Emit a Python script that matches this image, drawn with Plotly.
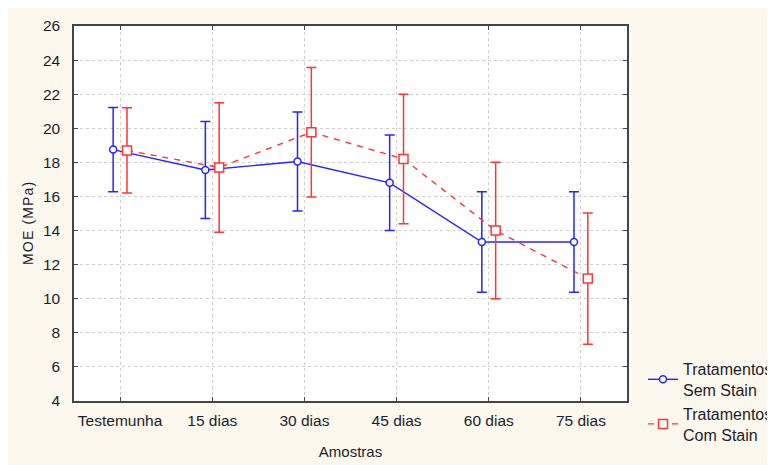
import plotly.graph_objects as go

categories = ["Testemunha", "15 dias", "30 dias", "45 dias", "60 dias", "75 dias"]
sem_stain = [18.75, 17.55, 18.05, 16.8, 13.33, 13.33]
sem_err = [2.47, 2.85, 2.9, 2.8, 2.95, 2.95]
com_stain = [18.7, 17.7, 19.77, 18.2, 14.0, 11.18]
com_err = [2.5, 3.8, 3.8, 3.8, 4.0, 3.85]
y_ticks = list(range(4, 27, 2))

offset = 0.075
x_sem = [i - offset for i in range(len(categories))]
x_com = [i + offset for i in range(len(categories))]

BLUE = "#2424ff"
RED = "#ff3434"
FONT = "Arial, Liberation Sans, sans-serif"
TXT = "#1c1c2c"

fig = go.Figure()
fig.add_trace(go.Scatter(
    x=x_sem, y=sem_stain, mode="lines+markers",
    name="Tratamentos<br>Sem Stain",
    line=dict(color=BLUE, width=1.4),
    marker=dict(symbol="circle", size=7, color="white", line=dict(color=BLUE, width=1.5)),
    error_y=dict(type="data", array=sem_err, visible=True, color=BLUE, thickness=1.5, width=5),
))
fig.add_trace(go.Scatter(
    x=x_com, y=com_stain, mode="lines+markers",
    name="Tratamentos<br>Com Stain",
    line=dict(color=RED, width=1.4, dash="6px,6px"),
    marker=dict(symbol="square", size=9, color="white", line=dict(color=RED, width=1.5)),
    error_y=dict(type="data", array=com_err, visible=True, color=RED, thickness=1.5, width=5),
))

W, H = 767, 457
L, T = 66, 18
R = W - 619
B = H - 393
pw = W - L - R
ph = H - T - B

axis_common = dict(
    showline=True, linecolor="#444444", linewidth=1.5, mirror="ticks",
    ticks="inside", ticklen=4, tickcolor="#444444", tickwidth=1.2,
    showgrid=True, gridcolor="#cfcfcf", griddash="dot", gridwidth=1,
    zeroline=False,
    tickfont=dict(family=FONT, size=15.5, color=TXT),
)

HS = "\u200a"
ytitle = HS.join("MOE (MPa)")

fig.update_layout(
    width=W, height=H,
    margin=dict(l=L, r=R, t=T, b=B, autoexpand=False),
    paper_bgcolor="#fdf8ee",
    plot_bgcolor="white",
    font=dict(family=FONT, size=15, color=TXT),
    xaxis=dict(
        **axis_common,
        tickmode="array", tickvals=list(range(len(categories))), ticktext=categories,
        range=[-0.5, len(categories) - 0.5],
        ticklabelstandoff=5,
        title=dict(text="Amostras", font=dict(family=FONT, size=15, color=TXT), standoff=18),
    ),
    yaxis=dict(
        **axis_common,
        tickmode="array", tickvals=y_ticks,
        range=[4, 26],
        ticklabelstandoff=9,
    ),
    annotations=[dict(
        text=ytitle, textangle=-90, showarrow=False,
        xref="paper", yref="paper",
        x=(20 - L) / pw, y=(H - B - 216) / ph,
        xanchor="center", yanchor="middle",
        font=dict(family=FONT, size=14, color=TXT),
    )],
    legend=dict(
        x=(635 - L) / pw, y=(H - B - 344) / ph, xanchor="left", yanchor="top",
        bgcolor="rgba(0,0,0,0)", font=dict(family=FONT, size=16, color=TXT),
        tracegroupgap=0, itemwidth=30,
    ),
    showlegend=True,
)

fig.write_html("out.html")
